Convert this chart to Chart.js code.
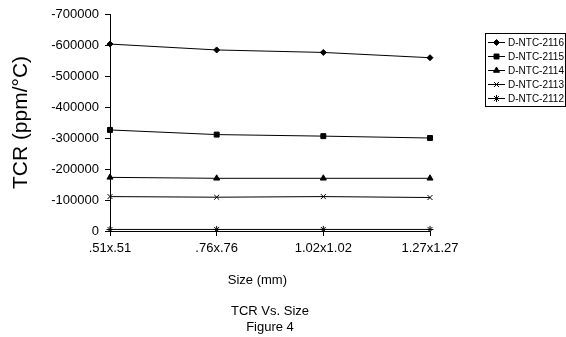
<!DOCTYPE html>
<html>
<head>
<meta charset="utf-8">
<script src="https://cdn.jsdelivr.net/npm/chart.js@4.4.1/dist/chart.umd.min.js"></script>
<style>
	html, body { margin: 0; padding: 0; background: #fff; }
	#wrap { width: 566px; height: 337px; }
</style>
</head>
<body>
<div id="wrap"><canvas id="mycanvas" width="566" height="337"></canvas></div>
<script>
var sizes = [".51x.51", ".76x.76", "1.02x1.02", "1.27x1.27"];
var seriesNames = ["D-NTC-2116", "D-NTC-2115", "D-NTC-2114", "D-NTC-2113", "D-NTC-2112"];
var ntc2116 = [-603000, -584000, -576000, -559000];
var ntc2115 = [-326000, -311000, -306000, -300000];
var ntc2114 = [-173000, -170000, -170000, -170000];
var ntc2113 = [-111000, -109000, -111000, -108000];
var ntc2112 = [-5000, -5000, -5000, -5000];
var yTicks = [0, -100000, -200000, -300000, -400000, -500000, -600000, -700000];

var FONT = "'Liberation Sans', Arial, sans-serif";
Chart.defaults.font.family = FONT;
Chart.defaults.color = "#000";

function makeSet(label, data, style, radius) {
	return {
		label: label,
		data: data,
		fill: false,
		lineTension: 0,
		borderColor: "#000",
		backgroundColor: "#000",
		borderWidth: 1,
		pointStyle: style,
		pointRadius: radius,
		pointBorderWidth: 1,
		pointBorderColor: "#000",
		pointBackgroundColor: "#000"
	};
}

var chartdata = {
	labels: sizes,
	datasets: [
		makeSet(seriesNames[0], ntc2116, "rectRot", 3),
		makeSet(seriesNames[1], ntc2115, "rect", 3.5),
		makeSet(seriesNames[2], ntc2114, "triangle", 3.5),
		makeSet(seriesNames[3], ntc2113, "crossRot", 3.5),
		makeSet(seriesNames[4], ntc2112, "star", 3.5)
	]
};

// boxed legend in the upper right, like the original
var boxLegend = {
	id: "boxLegend",
	afterDraw: function(chart) {
		var ctx = chart.ctx;
		var x0 = 485, y0 = 33, w = 80, h = 73;
		ctx.save();
		ctx.strokeStyle = "#000";
		ctx.lineWidth = 1;
		ctx.strokeRect(x0 + 0.5, y0 + 0.5, w, h);
		ctx.font = "10px " + FONT;
		ctx.textBaseline = "middle";
		ctx.fillStyle = "#000";
		chart.data.datasets.forEach(function(ds, i) {
			var y = y0 + 9.5 + i * 14;
			ctx.beginPath();
			ctx.moveTo(488, y);
			ctx.lineTo(505, y);
			ctx.strokeStyle = "#000";
			ctx.stroke();
			Chart.helpers.drawPoint(ctx, {
				pointStyle: ds.pointStyle,
				radius: ds.pointRadius,
				rotation: 0,
				borderWidth: 1
			}, 496.5, y);
			ctx.fillText(ds.label, 508, y + 0.5);
		});
		ctx.restore();
	}
};

var ctx = document.getElementById("mycanvas");

var LineGraph = new Chart(ctx, {
	type: "line",
	data: chartdata,
	plugins: [boxLegend],
	options: {
		responsive: false,
		animation: false,
		layout: { padding: { left: 0, right: 136, top: 14, bottom: 0 } },
		plugins: {
			legend: { display: false },
			tooltip: { enabled: false },
			title: { display: false }
		},
		scales: {
			x: {
				offset: false,
				grid: { display: true, drawOnChartArea: false, drawTicks: true, tickLength: 5, color: "#000" },
				border: { display: true, color: "#000" },
				ticks: { font: { size: 13 }, padding: 5, maxRotation: 0, autoSkip: false },
				title: {
					display: true,
					// trailing spaces nudge the axis title a little left, as in the original
					text: ["Size (mm)       ", "", "TCR Vs. Size", "Figure 4"],
					font: { size: 13, lineHeight: 1.2 },
					padding: { top: 0, bottom: 2 }
				},
				afterFit: function(scale) { scale.height = 106; }
			},
			y: {
				reverse: true,
				min: -700000,
				max: 0,
				afterBuildTicks: function(scale) {
					scale.ticks = yTicks.map(function(v) { return { value: v }; });
				},
				grid: { display: true, drawOnChartArea: false, drawTicks: true, tickLength: 5, color: "#000" },
				border: { display: true, color: "#000" },
				ticks: {
					font: { size: 13 },
					padding: 6,
					callback: function(v) { return String(v); }
				},
				title: {
					display: true,
					text: "TCR (ppm/°C)",
					font: { size: 21 },
					padding: { top: 9, bottom: 0 }
				},
				afterFit: function(scale) { scale.width = 110; }
			}
		}
	}
});
</script>
</body>
</html>
